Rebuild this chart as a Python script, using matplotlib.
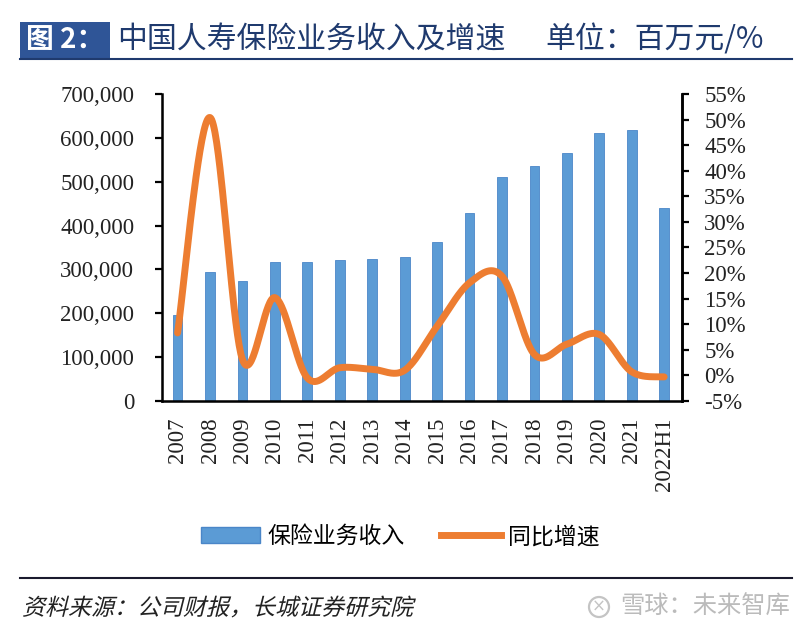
from matplotlib import pyplot as plt
from matplotlib.patches import Patch, Rectangle, PathPatch, Circle
from matplotlib.lines import Line2D
from matplotlib.textpath import TextPath
from matplotlib.font_manager import FontProperties
from matplotlib.transforms import Affine2D
import numpy as np

years = ['2007', '2008', '2009', '2010', '2011', '2012', '2013', '2014',
         '2015', '2016', '2017', '2018', '2019', '2020', '2021', '2022H1']
revenue = [196000, 294500, 274000, 317000, 317000, 321000, 324000, 329000,
           362000, 428000, 511000, 535000, 565000, 612000, 617000, 439000]
growth = [8.3, 50.4, 3.1, 15.2, -0.5, 1.5, 1.2, 1.0,
          9.6, 18.1, 19.4, 4.1, 6.1, 8.0, 0.7, -0.3]

BLUE = '#5B9BD5'
ORANGE = '#ED7D31'
NAVY = '#1F3A6E'
CJK = ['Noto Sans CJK SC', 'DejaVu Sans']
SERIF = ['Liberation Serif', 'DejaVu Serif']


def smooth(xs, ys, n=40):
	# excel-style smoothed line: bezier segments, control points from neighbours
	p = np.column_stack([xs, ys]).astype(float)
	p = np.vstack([p[0], p, p[-1]])
	out = []
	t = np.linspace(0, 1, n)[:, None]
	for i in range(1, len(p) - 2):
		p0, p1, p2, p3 = p[i - 1], p[i], p[i + 1], p[i + 2]
		c1 = p1 + (p2 - p0) / 6
		c2 = p2 - (p3 - p1) / 6
		seg = (1 - t) ** 3 * p1 + 3 * (1 - t) ** 2 * t * c1 + 3 * (1 - t) * t ** 2 * c2 + t ** 3 * p2
		out.append(seg if i == 1 else seg[1:])
	s = np.vstack(out)
	return s[:, 0], s[:, 1]


fig = plt.figure(figsize=(8, 6.39), dpi=100)
ax = fig.add_axes([0.2025, 0.3725, 0.65, 0.4804])
x = np.arange(len(years))

ax.bar(x, revenue, width=0.3, color=BLUE, edgecolor='#4A86C8', linewidth=0.6, zorder=2)
ax.set_xlim(-0.48, 15.55)
ax.set_ylim(0, 700000)
ax.set_yticks(np.arange(0, 700001, 100000))
ax.set_yticklabels([f'{v:,}' for v in range(0, 700001, 100000)], family=SERIF, fontsize=16.5, color='#222222')
ax.set_xticks(x)
ax.set_xticklabels(years, rotation=90, family=SERIF, fontsize=16.5, color='#222222')
ax.tick_params(axis='x', length=0, pad=12)
ax.tick_params(axis='y', length=5, width=1.6, pad=15)
ax.spines['top'].set_visible(False)
for s in ['left', 'bottom', 'right']:
	ax.spines[s].set_linewidth(1.8)

ax2 = ax.twinx()
sx, sy = smooth(x, growth)
ax2.plot(sx, sy, color=ORANGE, lw=5, solid_capstyle='round', zorder=3)
ax2.set_ylim(-5, 55)
ax2.set_yticks(np.arange(-5, 56, 5))
ax2.set_yticklabels([f'{v}%' for v in range(-5, 56, 5)], family=SERIF, fontsize=16.5, color='#222222')
ax2.tick_params(axis='y', length=5, width=1.6, pad=11)
ax2.spines['top'].set_visible(False)
ax2.spines['right'].set_linewidth(1.8)

handles = [Patch(facecolor=BLUE, edgecolor='#4A86C8'), Line2D([], [], color=ORANGE, lw=5)]
fig.legend(handles, ['保险业务收入', '同比增速'], loc='center', bbox_to_anchor=(0.5, 0.16),
           ncol=2, frameon=False, prop={'family': CJK, 'size': 16.5},
           handlelength=2.6, handletextpad=0.3, columnspacing=1.6)

# title block
fig.patches.append(Rectangle((20 / 800, 1 - 58 / 639), 90 / 800, 36 / 639,
                             transform=fig.transFigure, facecolor='#2F5597', edgecolor='none'))
fig.text(26 / 800, 1 - 40 / 639, '图 2：', family=CJK, fontsize=20, color='white',
         fontweight='bold', va='center', ha='left')
fig.text(117 / 800, 1 - 40 / 639, '中国人寿保险业务收入及增速', family=CJK, fontsize=21.5,
         color=NAVY, fontweight='medium', va='center', ha='left')
fig.text(545 / 800, 1 - 40 / 639, '单位：百万元/%', family=CJK, fontsize=21.5,
         color=NAVY, fontweight='medium', va='center', ha='left')
fig.lines.append(Line2D([20 / 800, 792 / 800], [1 - 59 / 639] * 2, transform=fig.transFigure,
                        color=NAVY, lw=1.5))

# footer
fig.lines.append(Line2D([20 / 800, 792 / 800], [1 - 578 / 639] * 2, transform=fig.transFigure,
                        color='#1a1a2e', lw=1.5))
# CJK fonts have no italic, so slant the source line by hand
src = TextPath((0, 0), '资料来源：公司财报，长城证券研究院', size=23,
               prop=FontProperties(family='Noto Sans CJK SC'))
fig.add_artist(PathPatch(src, transform=Affine2D().skew_deg(14, 0).translate(22, 639 - 615),
                         facecolor='#222222', edgecolor='none'))
# watermark
fig.add_artist(Circle((599, 639 - 607), 10, transform=None, facecolor='none',
                      edgecolor='#C4C4C4', lw=1.6))
fig.text(599 / 800, 1 - 607 / 639, '×', family=['DejaVu Sans'], fontsize=12,
         color='#C4C4C4', va='center', ha='center')
fig.text(790 / 800, 1 - 607 / 639, '雪球：未来智库', family=CJK, fontsize=17.5,
         color='#BBBBBB', va='center', ha='right')

fig.savefig('out.png', dpi=100)
